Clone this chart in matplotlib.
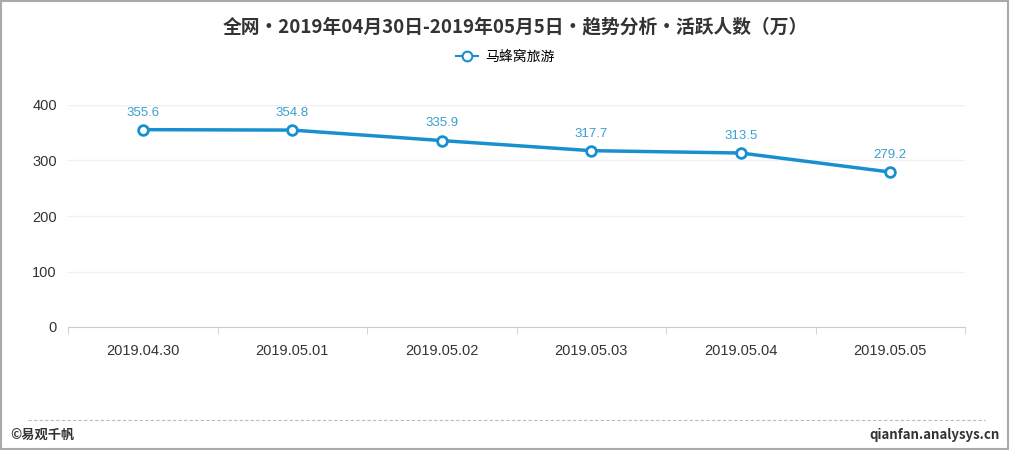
import matplotlib.pyplot as plt
from matplotlib.patches import Rectangle
from matplotlib.lines import Line2D

plt.rcParams['font.family'] = ['Noto Sans CJK SC', 'DejaVu Sans']

dates = ['2019.04.30', '2019.05.01', '2019.05.02', '2019.05.03', '2019.05.04', '2019.05.05']
active_users = [355.6, 354.8, 335.9, 317.7, 313.5, 279.2]
series_name = '马蜂窝旅游'
title = '全网•2019年04月30日-2019年05月5日•趋势分析•活跃人数（万）'
y_ticks = [0, 100, 200, 300, 400]

line_color = '#1890d0'
label_color = '#3a9fd0'
num_font = ['Liberation Sans', 'DejaVu Sans']

fig = plt.figure(figsize=(10.1, 4.5), dpi=100)
ax = fig.add_axes([68 / 1010, 1 - 327 / 450, (965 - 68) / 1010, (327 - 105) / 450])

x = list(range(len(dates)))
ax.plot(x, active_users, color=line_color, lw=2.5, marker='o', ms=7,
        mfc='white', mec=line_color, mew=2, zorder=3)
for xi, v in zip(x, active_users):
    ax.annotate(f'{v:.1f}', (xi, v), xytext=(0, 8), textcoords='offset points',
                ha='center', va='bottom', fontsize=9.5, color=label_color,
                family=num_font)

ax.set_xlim(-0.5, len(dates) - 0.5)
ax.set_ylim(0, 400)
ax.set_yticks(y_ticks)
ax.set_xticks(x)
ax.set_xticklabels(dates)
ax.set_xticks([i - 0.5 for i in range(len(dates) + 1)], minor=True)
ax.tick_params(axis='x', which='major', length=0, pad=12, labelsize=10.5, labelcolor='#333333')
ax.tick_params(axis='x', which='minor', length=5, color='#cccccc', direction='out')
ax.tick_params(axis='y', length=0, pad=8, labelsize=10.5, labelcolor='#333333')
for lab in ax.get_xticklabels() + ax.get_yticklabels():
    lab.set_family(num_font)
ax.grid(axis='y', color='#f0f0f0', lw=1)
ax.set_axisbelow(True)
for s in ['top', 'right', 'left']:
    ax.spines[s].set_visible(False)
ax.spines['bottom'].set_color('#cccccc')

fig.text(515 / 1010, 1 - 27 / 450, title, ha='center', va='center', fontsize=13.5,
         fontweight='bold', color='#333333')

# legend
handle = Line2D([], [], color=line_color, lw=1.5, marker='o', ms=7,
                mfc='white', mec=line_color, mew=1.5)
fig.legend([handle], [series_name], loc='center', bbox_to_anchor=(0.5, 1 - 57 / 450),
           frameon=False, fontsize=10, handlelength=1.6, handletextpad=0.5)

# footer
fig.add_artist(Line2D([28 / 1010, 985 / 1010], [1 - 420 / 450, 1 - 420 / 450],
                      color='#bbbbbb', lw=0.8, ls=(0, (3, 2))))
fig.text(10 / 1010, 1 - 435 / 450, '©易观千帆', ha='left', va='center', fontsize=9.5,
         color='#333333', fontweight='bold')
fig.text(1000 / 1010, 1 - 435 / 450, 'qianfan.analysys.cn', ha='right', va='center',
         fontsize=9.5, color='#333333', fontweight='bold')

# border
fig.add_artist(Rectangle((0.001, 0.002), 0.997, 0.996, transform=fig.transFigure,
                         fill=False, ec='#aaaaaa', lw=1.5))

fig.savefig('out.png', dpi=100)
